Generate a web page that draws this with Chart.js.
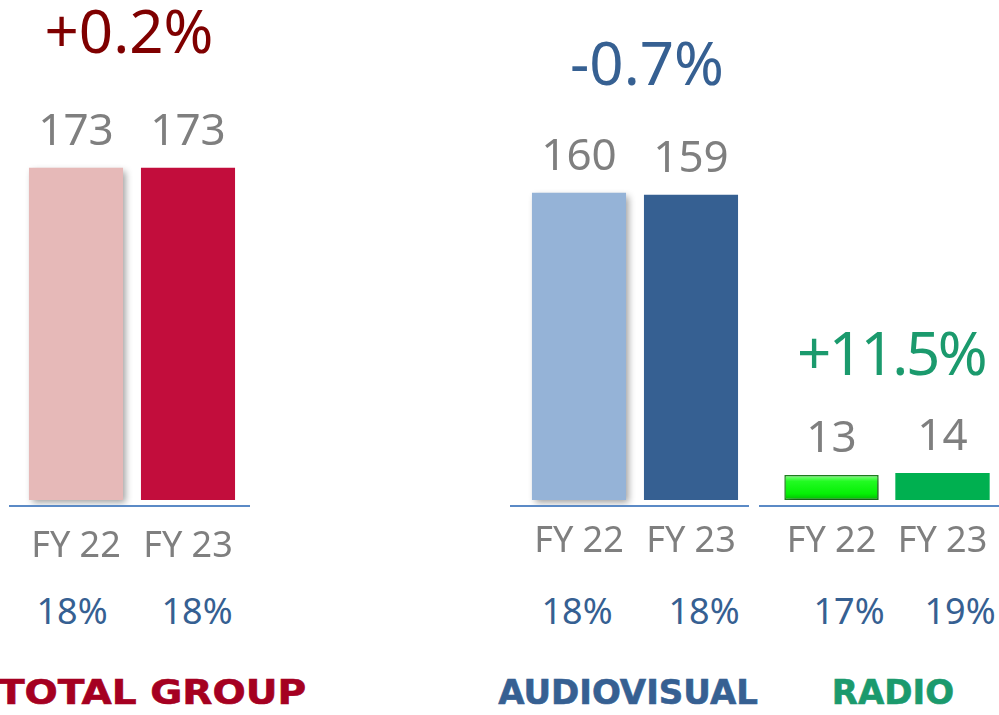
<!DOCTYPE html>
<html>
<head>
<meta charset="utf-8">
<script src="https://cdn.jsdelivr.net/npm/chart.js@4.4.1/dist/chart.umd.min.js"></script>
<style>
html,body{margin:0;padding:0;background:#ffffff;width:999px;height:715px;overflow:hidden;}
#stage{position:relative;width:999px;height:715px;}
canvas.cv{position:absolute;top:0;}
.txt{position:absolute;white-space:nowrap;line-height:1;transform:translateX(-50%);}
.num{font-family:"Noto Sans",sans-serif;font-weight:400;}
.ttl{font-family:"DejaVu Sans",sans-serif;font-weight:700;-webkit-text-stroke:0.6px currentColor;}
</style>
</head>
<body>
<div id="stage"></div>
<script>
// ---------- DATA ----------
const groups = ['TOTAL GROUP', 'AUDIOVISUAL', 'RADIO'];
const periods = ['FY 22', 'FY 23'];
const fy22Values = [173, 160, 13];
const fy23Values = [173, 159, 14];
const changeLabels = ['+0.2%', '-0.7%', '+11.5%'];
const shareFY22 = ['18%', '18%', '17%'];
const shareFY23 = ['18%', '18%', '19%'];

// ---------- STYLE / LAYOUT ----------
const panelLayout = [
  {left: 9,   width: 241, padL: 11, padR: 6, barPct: 0.84, tickPad: 19},
  {left: 510, width: 239, padL: 13, padR: 2, barPct: 0.84, tickPad: 14},
  {left: 759, width: 240, padL: 17, padR: 1, barPct: 0.85, tickPad: 14}
];
const fy22Colors = ['#E6B9B8', '#95B3D7', 'gradient'];
const fy23Colors = ['#C20D3C', '#366092', '#00B050'];
const changeColors = ['#7F0000', '#366092', '#1B9A6D'];
const titleColors = ['#A50021', '#366092', '#1B9A6D'];
const changePos = [{x: 129, base: 53, ls: 0}, {x: 647, base: 85, ls: 0}, {x: 891, base: 375, ls: -2.5}];
const sharePos22 = [72, 577, 849];
const sharePos23 = [197, 704, 960];
const titlePos = [{x: 152, sx: 1.15, fs: 34}, {x: 628, sx: 1, fs: 34}, {x: 893, sx: 1, fs: 34}];
const shareBase = 625;
const titleBase = 704;
const axisColor = '#5B8AC6';
const labelGray = '#7F7F7F';
const shareBlue = '#366092';

const stage = document.getElementById('stage');

function addText(str, cls, fontSize, centerX, baseline, color, ascentRatio, ls, sx) {
  const d = document.createElement('div');
  d.className = 'txt ' + cls;
  d.textContent = str;
  d.style.fontSize = fontSize + 'px';
  d.style.color = color;
  d.style.left = centerX + 'px';
  d.style.top = (baseline - ascentRatio * fontSize) + 'px';
  if (ls) d.style.letterSpacing = ls + 'px';
  if (sx && sx !== 1) d.style.transform = 'translateX(-50%) scaleX(' + sx + ')';
  stage.appendChild(d);
}

const shadowPlugin = {
  id: 'shadow',
  beforeDatasetDraw(chart, args) {
    if (args.index !== 0) return;
    const c = chart.ctx;
    c.save();
    c.shadowColor = 'rgba(0,0,0,0.38)';
    c.shadowBlur = 7;
    c.shadowOffsetX = 3;
    c.shadowOffsetY = 3;
  },
  afterDatasetDraw(chart, args) {
    if (args.index !== 0) return;
    chart.ctx.restore();
  }
};

const extrasPlugin = {
  id: 'extras',
  afterDraw(chart) {
    const c = chart.ctx;
    const area = chart.chartArea;
    c.save();
    c.strokeStyle = axisColor;
    c.lineWidth = 2;
    c.beginPath();
    c.moveTo(0, area.bottom);
    c.lineTo(chart.width, area.bottom);
    c.stroke();
    c.font = '400 44px "Noto Sans"';
    c.fillStyle = labelGray;
    c.textAlign = 'center';
    c.textBaseline = 'alphabetic';
    chart.data.datasets.forEach((ds, di) => {
      const meta = chart.getDatasetMeta(di);
      meta.data.forEach((el, i) => {
        const v = ds.data[i];
        if (v === null || v === undefined) return;
        c.fillText(String(v), el.x, el.y - 23);
      });
    });
    c.restore();
  }
};

const yMin = -3.125, yMax = 260.4;

groups.forEach((g, gi) => {
  const L = panelLayout[gi];
  const cv = document.createElement('canvas');
  cv.className = 'cv';
  cv.width = L.width;
  cv.height = 580;
  cv.style.left = L.left + 'px';
  cv.style.width = L.width + 'px';
  cv.style.height = '580px';
  stage.appendChild(cv);

  let bg22 = fy22Colors[gi];
  let border22 = 'rgba(0,0,0,0)';
  let bw22 = 0;
  if (bg22 === 'gradient') {
    bg22 = (ctx) => {
      const ch = ctx.chart;
      const ys = ch.scales && ch.scales.y;
      const val = ctx.raw;
      if (!ys || typeof val !== 'number') return '#10F010';
      const top = ys.getPixelForValue(val);
      const bot = ys.getPixelForValue(0);
      if (!isFinite(top) || !isFinite(bot) || top === bot) return '#10F010';
      const gr = ch.ctx.createLinearGradient(0, top, 0, bot);
      gr.addColorStop(0, '#8CFF8C');
      gr.addColorStop(0.25, '#22FB22');
      gr.addColorStop(0.75, '#05F005');
      gr.addColorStop(1, '#03B803');
      return gr;
    };
    border22 = '#1E7F1E';
    bw22 = 1.5;
  }

  new Chart(cv, {
    type: 'bar',
    data: {
      labels: periods,
      datasets: [
        {
          label: periods[0],
          data: [fy22Values[gi], null],
          backgroundColor: bg22,
          borderColor: border22,
          borderWidth: bw22,
          borderSkipped: false
        },
        {
          label: periods[1],
          data: [null, fy23Values[gi]],
          backgroundColor: fy23Colors[gi],
          borderWidth: 0
        }
      ]
    },
    options: {
      responsive: false,
      animation: false,
      devicePixelRatio: 1,
      layout: {padding: {left: L.padL, right: L.padR, top: 0, bottom: 0}},
      plugins: {legend: {display: false}, tooltip: {enabled: false}, title: {display: false}},
      datasets: {bar: {grouped: false, categoryPercentage: 1, barPercentage: L.barPct}},
      scales: {
        y: {display: false, min: yMin, max: yMax},
        x: {
          display: true,
          grid: {display: false, drawTicks: false},
          border: {display: false},
          ticks: {
            color: labelGray,
            font: {family: 'Noto Sans', size: 36, weight: '400'},
            padding: L.tickPad,
            maxRotation: 0,
            autoSkip: false
          },
          afterFit(scale) {
            scale.height = 74;
            scale.paddingLeft = 0;
            scale.paddingRight = 0;
          }
        }
      }
    },
    plugins: [shadowPlugin, extrasPlugin]
  });

  addText(changeLabels[gi], 'num', 60, changePos[gi].x, changePos[gi].base, changeColors[gi], 0.888, changePos[gi].ls);
  addText(shareFY22[gi], 'num', 36, sharePos22[gi], shareBase, shareBlue, 0.888);
  addText(shareFY23[gi], 'num', 36, sharePos23[gi], shareBase, shareBlue, 0.888);
  addText(g, 'ttl', titlePos[gi].fs, titlePos[gi].x, titleBase, titleColors[gi], 0.846, 0, titlePos[gi].sx);
});
</script>
</body>
</html>
